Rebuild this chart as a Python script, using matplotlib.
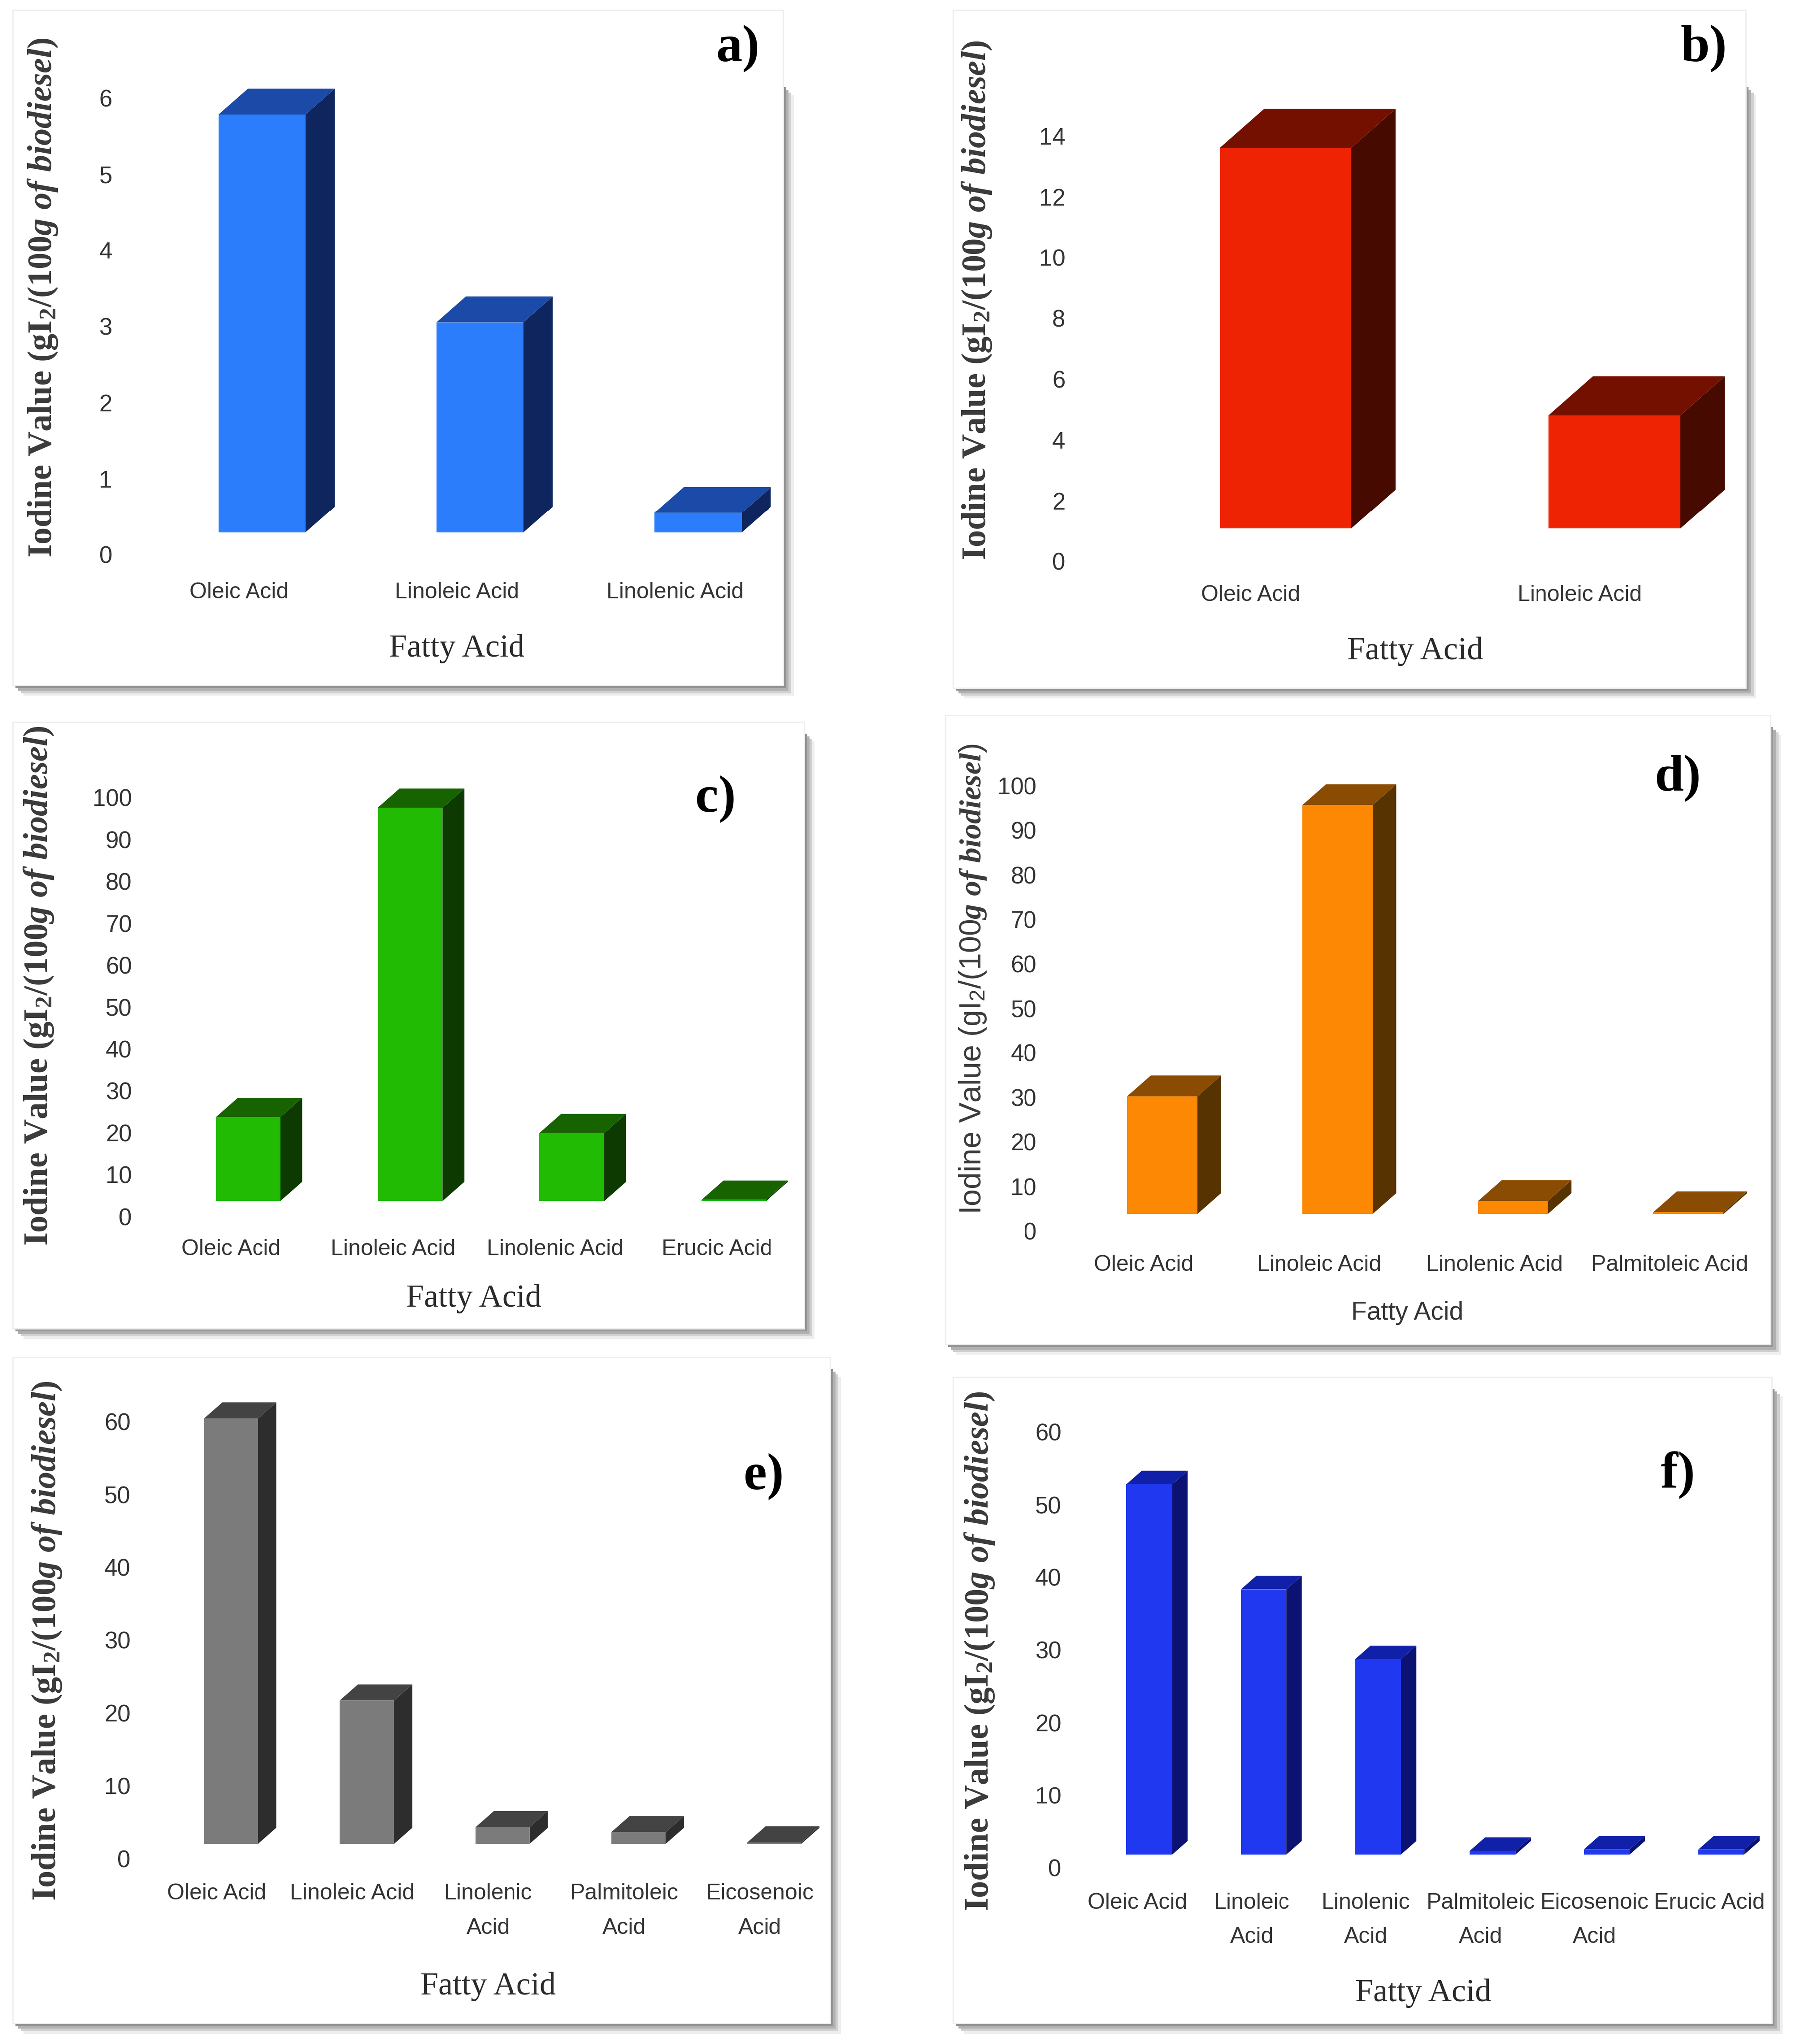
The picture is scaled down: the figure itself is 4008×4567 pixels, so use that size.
import matplotlib
matplotlib.use("Agg")
import matplotlib.pyplot as plt
from matplotlib.patches import Rectangle, Polygon
import numpy as np

plt.rcParams.update(
    {
        "mathtext.fontset": "custom",
        "mathtext.rm": "Liberation Serif:bold",
        "mathtext.it": "Liberation Serif:italic:bold",
        "mathtext.sf": "Liberation Sans",
    }
)

SERIF = ["Liberation Serif", "DejaVu Serif"]
NARROW = ["Liberation Sans Narrow", "Liberation Sans", "DejaVu Sans"]

# ---- data (iodine value contribution per fatty acid) ----
acids_a = ["Oleic Acid", "Linoleic Acid", "Linolenic Acid"]
iv_a = [5.78, 3.05, 0.55]
ticks_a = np.arange(0, 7, 1)

acids_b = ["Oleic Acid", "Linoleic Acid"]
iv_b = [13.6, 4.8]
ticks_b = np.arange(0, 15, 2)

acids_c = ["Oleic Acid", "Linoleic Acid", "Linolenic Acid", "Erucic Acid"]
iv_c = [23.7, 97.5, 19.9, 4.0]
ticks_c = np.arange(0, 101, 10)

acids_d = ["Oleic Acid", "Linoleic Acid", "Linolenic Acid", "Palmitoleic Acid"]
iv_d = [30.2, 95.6, 6.7, 4.2]
ticks_d = np.arange(0, 101, 10)

acids_e = ["Oleic Acid", "Linoleic Acid", "Linolenic\nAcid", "Palmitoleic\nAcid", "Eicosenoic\nAcid"]
iv_e = [60.4, 21.7, 4.3, 3.6, 2.2]
ticks_e = np.arange(0, 61, 10)

acids_f = ["Oleic Acid", "Linoleic\nAcid", "Linolenic\nAcid", "Palmitoleic\nAcid", "Eicosenoic\nAcid", "Erucic Acid"]
iv_f = [52.8, 38.3, 28.7, 2.3, 2.5, 2.5]
ticks_f = np.arange(0, 61, 10)

# ---- layout, measured on a 1374 x 1566 grid ----
W, H = 1374.0, 1566.0
SCALE = 4008 / W
FRONT_OFF = -0.095   # front face left edge, relative to category centre
BAR_W = 0.40
DEPTH = 0.135        # horizontal depth, in category units
DEPTH_RATIO = 0.88   # vertical depth / horizontal depth, in pixels

fig = plt.figure(figsize=(40.08, 45.67), dpi=100)


def fx(x):
    return x / W


def fy(y):
    return 1 - y / H


def pt(px):
    return px * SCALE * 0.72


panels = [
    dict(tag="a)", box=(10, 8, 600, 525), shadow_top=65, y0=425, ytop=75, x0=183, sp=167,
         tick_right=84, cat_top=446, xlab=(350, 497), ylab=(33, 228), tagpos=(565, 37), sans=False,
         colors=("#2b7dfb", "#1b4aa8", "#0f255e"), floor=0.29),
    dict(tag="b)", box=(730, 8, 1337, 527), shadow_top=65, y0=430, ytop=104, x0=958, sp=252,
         tick_right=814, cat_top=448, xlab=(1084, 499), ylab=(748, 230), tagpos=(1305, 37), sans=False,
         colors=("#ee2303", "#741000", "#470a00"), floor=1.07),
    dict(tag="c)", box=(10, 553, 616, 1018), shadow_top=560, y0=932, ytop=611, x0=177, sp=124,
         tick_right=99, cat_top=949, xlab=(363, 995), ylab=(30, 755), tagpos=(548, 612), sans=False,
         colors=("#22bb03", "#176300", "#0c3a00"), floor=3.7),
    dict(tag="d)", box=(724, 548, 1356, 1030), shadow_top=555, y0=943, ytop=602, x0=876, sp=134.3,
         tick_right=792, cat_top=961, xlab=(1078, 1006), ylab=(745, 750), tagpos=(1285, 596), sans=True,
         colors=("#fd8804", "#8a4c02", "#563300"), floor=3.8),
    dict(tag="e)", box=(10, 1040, 636, 1550), shadow_top=1047, y0=1424, ytop=1089, x0=166, sp=104,
         tick_right=98, cat_top=1443, xlab=(374, 1522), ylab=(36, 1257), tagpos=(585, 1131), sans=False,
         colors=("#7b7b7b", "#434343", "#2d2d2d"), floor=2.0),
    dict(tag="f)", box=(730, 1055, 1357, 1550), shadow_top=1062, y0=1431, ytop=1097, x0=871, sp=87.6,
         tick_right=811, cat_top=1450, xlab=(1090, 1527), ylab=(750, 1265), tagpos=(1285, 1130), sans=False,
         colors=("#1f38f0", "#1020a8", "#0b1272"), floor=1.8),
]
series = [
    (acids_a, iv_a, ticks_a),
    (acids_b, iv_b, ticks_b),
    (acids_c, iv_c, ticks_c),
    (acids_d, iv_d, ticks_d),
    (acids_e, iv_e, ticks_e),
    (acids_f, iv_f, ticks_f),
]


def frame(L, T, R, B, shadow_top):
    for off, col in [(8, "#eeeeee"), (6, "#d0d0d0"), (4, "#b0b0b0"), (2, "#959595")]:
        fig.add_artist(Rectangle((fx(L + off), fy(B + off)), fx(R) - fx(L),
                                 fy(shadow_top + off) - fy(B + off),
                                 transform=fig.transFigure, facecolor=col, edgecolor="none", zorder=-3))
    fig.add_artist(Rectangle((fx(L), fy(B)), fx(R) - fx(L), fy(T) - fy(B), transform=fig.transFigure,
                             facecolor="white", edgecolor="#eeeeee", linewidth=2, zorder=-2))


for p, (acids, values, ticks) in zip(panels, series):
    L, T, R, B = p["box"]
    frame(L, T, R, B, p["shadow_top"])

    left = p["tick_right"] + 4
    right = R - 3
    top = T + 3
    bottom = p["cat_top"] - 6
    ax = fig.add_axes([fx(left), fy(bottom), fx(right) - fx(left), fy(top) - fy(bottom)])
    ax.set_facecolor("none")
    k = (p["y0"] - p["ytop"]) / ticks[-1]
    ax.set_xlim((left - p["x0"]) / p["sp"], (right - p["x0"]) / p["sp"])
    ax.set_ylim((p["y0"] - bottom) / k, (p["y0"] - top) / k)
    for s in ax.spines.values():
        s.set_visible(False)

    front, topc, side = p["colors"]
    ddx = DEPTH
    ddy = DEPTH * p["sp"] * DEPTH_RATIO / k
    base = p["floor"]
    for i, v in enumerate(values):
        xl = i + FRONT_OFF
        xr = xl + BAR_W
        ax.add_patch(Polygon([(xr, base), (xr + ddx, base + ddy), (xr + ddx, v + ddy), (xr, v)],
                             closed=True, facecolor=side, edgecolor="none"))
        ax.add_patch(Polygon([(xl, v), (xr, v), (xr + ddx, v + ddy), (xl + ddx, v + ddy)],
                             closed=True, facecolor=topc, edgecolor="none"))
        ax.add_patch(Rectangle((xl, base), BAR_W, v - base, facecolor=front, edgecolor="none"))

    ax.set_yticks(ticks)
    ax.set_yticklabels([str(t) for t in ticks], family=NARROW, fontsize=38, color="#333333")
    ax.set_xticks(range(len(acids)))
    ax.set_xticklabels(acids, family=NARROW, fontsize=36, color="#333333", linespacing=1.85)
    ax.tick_params(length=0, pad=pt(6))
    ax.tick_params(axis="y", pad=pt(2))

    if p["sans"]:
        ylabel = r"Iodine Value (gI$_\mathsf{2}$/(100$\mathit{g\ of\ biodiesel}$)"
        ax.set_ylabel(ylabel, family=NARROW, fontsize=49, color="#3a3a3a", va="center", ha="center")
        ax.set_xlabel("Fatty Acid", family=NARROW, fontsize=41, color="#333333", va="center")
    else:
        ylabel = r"Iodine Value (gI$_2$/(100$\mathit{g\ of\ biodiesel}$)"
        ax.set_ylabel(ylabel, family=SERIF, fontweight="bold", fontsize=55, color="#3a3a3a",
                      va="center", ha="center")
        ax.set_xlabel("Fatty Acid", family=SERIF, fontsize=52, color="#2a2a2a", va="center")
    wa = right - left
    ha_ = bottom - top
    ax.xaxis.set_label_coords((p["xlab"][0] - left) / wa, (bottom - p["xlab"][1]) / ha_)
    ax.yaxis.set_label_coords((p["ylab"][0] - left) / wa, (bottom - p["ylab"][1]) / ha_)

    fig.text(fx(p["tagpos"][0]), fy(p["tagpos"][1]), p["tag"], family=SERIF, fontweight="bold",
             fontsize=84, ha="center", va="center", color="black")

fig.savefig("out.png", dpi=100, facecolor="white")
